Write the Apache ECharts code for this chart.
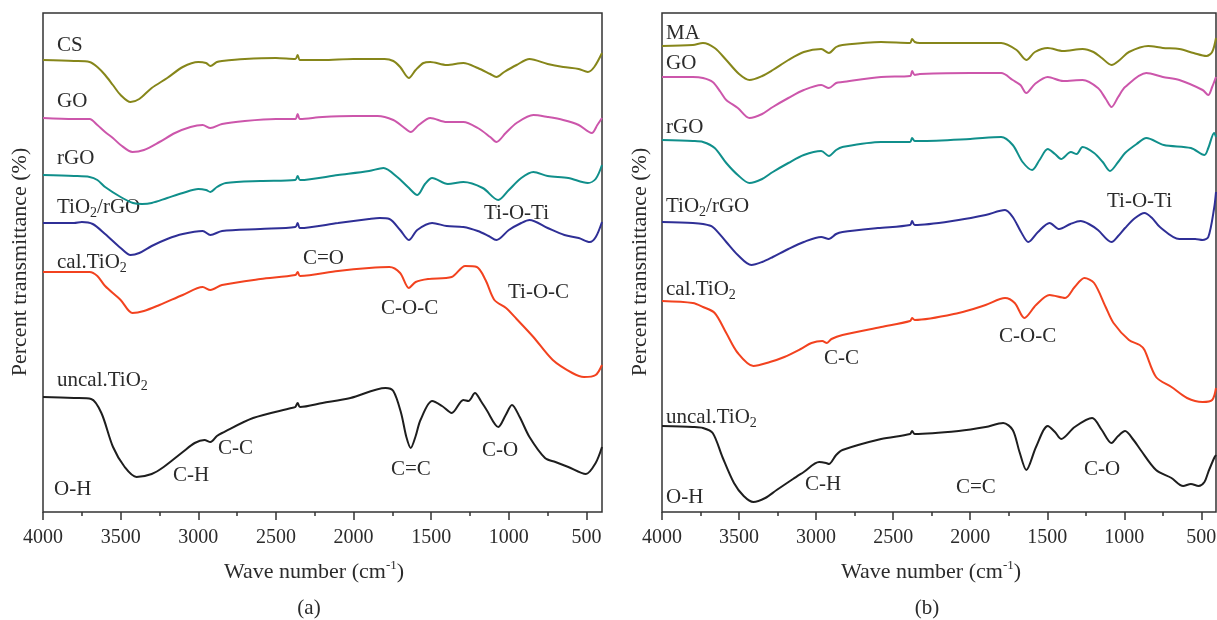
<!DOCTYPE html>
<html>
<head>
<meta charset="utf-8">
<script src="https://cdn.jsdelivr.net/npm/echarts@6/dist/echarts.min.js"></script>
<style>
  html, body { margin: 0; padding: 0; background: #fff; }
  #chart { width: 1217px; height: 620px; }
</style>
</head>
<body>
<div id="chart"></div>
<script>
// wave number (cm-1) / transmittance (arbitrary, offset spectra)
var majorTicks = [4000, 3500, 3000, 2500, 2000, 1500, 1000, 500];
var minorTicks = [3750, 3250, 2750, 2250, 1750, 1250, 750];

// ---- panel (a)
var csA = [[4000,452],[3800,451],[3700,450],[3650,445],[3600,437],[3550,427],[3500,417],[3436,410],[3380,413],[3300,424],[3200,434],[3100,445],[3000,450],[2950,449],[2922,446],[2880,450],[2847,451],[2700,453],[2500,454],[2375,453],[2360,457],[2345,452],[2200,452],[2000,453],[1800,453],[1744,451],[1700,445],[1644,434],[1600,442],[1550,449],[1506,450],[1400,447],[1293,449],[1200,444],[1120,438],[1080,435],[1030,440],[950,447],[867,453],[750,448],[650,445],[550,443],[491,440],[450,445],[400,459]];
var goA = [[4000,394],[3800,393],[3700,393],[3650,387],[3600,380],[3550,374],[3500,367],[3424,360],[3350,362],[3250,370],[3150,379],[3050,385],[2972,387],[2922,384],[2847,388],[2700,391],[2500,393],[2375,393],[2360,398],[2345,393],[2200,395],[2000,396],[1845,396],[1744,392],[1680,385],[1632,380],[1580,387],[1506,394],[1400,390],[1293,390],[1200,384],[1120,375],[1080,370],[1020,379],[950,389],[842,397],[750,395],[650,392],[550,387],[466,379],[430,387],[400,394]];
var rgoA = [[4000,337],[3800,336],[3700,335],[3650,332],[3600,325],[3500,315],[3420,309],[3361,308],[3300,309],[3200,314],[3100,319],[3000,323],[2950,322],[2922,320],[2880,325],[2822,329],[2600,331],[2375,332],[2360,336],[2345,332],[2100,337],[1900,341],[1807,344],[1719,335],[1650,325],[1589,317],[1540,328],[1494,334],[1393,328],[1293,330],[1168,324],[1068,312],[1000,322],[920,334],[842,340],[750,336],[617,334],[491,329],[441,333],[400,347]];
var tio2rgoA = [[4000,289],[3800,289],[3750,290],[3680,288],[3600,278],[3500,264],[3436,257],[3380,259],[3300,266],[3200,273],[3100,278],[2972,281],[2922,277],[2847,281],[2600,283],[2375,285],[2360,289],[2345,284],[2100,289],[1900,293],[1832,294],[1769,293],[1700,282],[1644,272],[1590,282],[1494,289],[1400,286],[1293,285],[1200,281],[1130,276],[1080,272],[1000,282],[920,289],[867,292],[750,284],[642,277],[550,274],[479,270],[440,275],[400,290]];
var calA = [[4000,240],[3800,240],[3700,240],[3650,236],[3600,226],[3500,212],[3424,199],[3350,201],[3250,207],[3100,217],[2972,225],[2922,222],[2847,227],[2600,233],[2375,237],[2360,240],[2345,236],[2100,241],[1900,244],[1769,245],[1700,239],[1644,224],[1600,230],[1520,233],[1368,235],[1281,246],[1206,245],[1150,232],[1093,212],[1018,204],[950,193],[842,175],[717,152],[591,139],[516,135],[441,137],[400,147]];
var uncalA = [[4000,115],[3800,114],[3690,113],[3624,99],[3549,65],[3474,45],[3398,35],[3300,38],[3223,45],[3100,60],[3023,69],[2960,72],[2922,70],[2880,76],[2847,79],[2647,94],[2400,104],[2375,105],[2360,109],[2345,105],[2200,109],[2020,114],[1794,124],[1744,121],[1694,99],[1660,75],[1632,64],[1600,76],[1569,92],[1494,111],[1430,106],[1368,99],[1293,112],[1260,111],[1218,119],[1180,111],[1143,102],[1068,85],[1020,97],[980,107],[930,95],[867,75],[767,54],[700,50],[617,45],[504,38],[441,49],[400,65]];

// ---- panel (b)
var maB = [[4000,466],[3800,467],[3734,469],[3658,464],[3583,452],[3500,438],[3432,432],[3350,436],[3281,442],[3180,452],[3080,460],[2967,463],[2917,459],[2870,465],[2829,467],[2578,470],[2390,469],[2377,473],[2360,470],[2327,469],[2000,469],[1799,469],[1699,462],[1636,452],[1580,460],[1497,464],[1397,461],[1271,463],[1200,460],[1146,454],[1083,447],[1030,452],[970,460],[845,466],[750,464],[643,463],[550,459],[467,456],[430,460],[405,474]];
var goB = [[4000,435],[3800,435],[3734,434],[3671,430],[3620,420],[3583,412],[3508,404],[3432,394],[3350,398],[3281,405],[3180,414],[3080,422],[2967,427],[2917,424],[2870,429],[2829,430],[2578,435],[2390,436],[2377,441],[2360,437],[2327,438],[2000,439],[1799,439],[1724,432],[1674,427],[1636,419],[1580,428],[1497,435],[1397,431],[1271,432],[1171,424],[1120,413],[1083,405],[1040,415],[995,425],[857,439],[750,435],[643,432],[492,422],[455,417],[430,425],[405,435]];
var rgoB = [[4000,372],[3800,371],[3734,370],[3658,364],[3583,349],[3508,337],[3432,329],[3350,333],[3281,340],[3180,349],[3080,357],[2967,361],[2917,356],[2870,362],[2829,365],[2578,370],[2390,370],[2377,374],[2360,371],[2327,371],[2000,373],[1799,375],[1724,367],[1660,350],[1598,342],[1550,352],[1497,363],[1450,358],[1410,353],[1347,360],[1309,358],[1271,365],[1196,359],[1140,350],[1093,341],[1040,350],[995,359],[920,368],[857,374],[744,367],[568,364],[480,357],[455,364],[417,379],[405,375]];
var tio2rgoB = [[4000,290],[3800,289],[3734,288],[3671,285],[3583,270],[3508,257],[3420,247],[3350,250],[3281,255],[3180,263],[3080,270],[2967,275],[2917,273],[2870,278],[2829,280],[2600,284],[2390,287],[2377,291],[2360,287],[2075,292],[1900,297],[1774,302],[1724,295],[1670,280],[1623,270],[1560,280],[1485,289],[1422,283],[1350,288],[1284,291],[1230,288],[1171,282],[1083,270],[1040,276],[995,284],[930,294],[869,299],[820,294],[769,285],[643,273],[540,273],[492,272],[455,275],[417,304],[405,320]];
var calB = [[4000,211],[3800,209],[3734,205],[3658,199],[3583,179],[3508,159],[3407,146],[3300,150],[3206,155],[3100,163],[3030,169],[2960,171],[2930,169],[2900,173],[2829,177],[2578,185],[2390,191],[2377,194],[2360,192],[2075,199],[1900,207],[1774,214],[1711,209],[1648,194],[1573,207],[1485,217],[1384,214],[1322,225],[1259,234],[1196,229],[1121,205],[1070,189],[970,172],[900,167],[869,162],[794,135],[694,125],[593,114],[492,110],[430,112],[405,124]];
var uncalB = [[4000,86],[3800,85],[3734,84],[3671,79],[3608,55],[3533,29],[3470,16],[3407,10],[3330,14],[3256,22],[3150,33],[3080,40],[2980,50],[2935,49],[2917,48],[2870,57],[2829,62],[2578,73],[2390,78],[2377,81],[2360,78],[2075,81],[1900,85],[1786,89],[1724,82],[1680,60],[1636,42],[1573,65],[1497,86],[1450,80],[1410,73],[1322,85],[1209,94],[1146,82],[1083,69],[1040,76],[995,81],[940,72],[894,62],[794,42],[694,34],[618,26],[568,28],[518,26],[480,30],[455,40],[417,54],[405,57]];

var colOlive = '#86861a', colPink = '#cc56ab', colTeal = '#108f8b',
    colNavy = '#2f2f96', colRed = '#f2421f', colBlack = '#1e1e1e';
var txtCol = '#2b2b2b';
var serif = '"Liberation Serif", "DejaVu Serif", serif';

var chart = echarts.init(document.getElementById('chart'), null, { renderer: 'canvas' });

function xAxisMain(gi, minV) {
  return {
    type: 'value', gridIndex: gi, inverse: true, min: minV, max: 4000,
    axisLine: { show: false },
    splitLine: { show: false },
    axisTick: { show: true, inside: false, length: 8, customValues: majorTicks,
                lineStyle: { color: '#333', width: 1.5 } },
    axisLabel: { show: true, customValues: majorTicks, margin: 16, hideOverlap: false,
                 color: txtCol, fontFamily: serif, fontSize: 20,
                 formatter: function (v) { return String(v); } }
  };
}
function xAxisMinor(gi, minV) {
  return {
    type: 'value', gridIndex: gi, inverse: true, min: minV, max: 4000, position: 'bottom',
    axisLine: { show: false }, splitLine: { show: false },
    axisTick: { show: true, inside: false, length: 4, customValues: minorTicks,
                lineStyle: { color: '#333', width: 1.5 } },
    axisLabel: { show: false }
  };
}
function yAxisHidden(gi) {
  return { type: 'value', gridIndex: gi, min: 0, max: 499,
           axisLine: { show: false }, axisTick: { show: false },
           axisLabel: { show: false }, splitLine: { show: false } };
}
function line(name, data, color, xi, yi) {
  return { name: name, type: 'line', data: data, xAxisIndex: xi, yAxisIndex: yi,
           showSymbol: false, smooth: 0.3, silent: true,
           lineStyle: { color: color, width: 2 }, itemStyle: { color: color } };
}

var rich = {
  s: { fontSize: 14, fontFamily: serif, fill: txtCol, verticalAlign: 'bottom', lineHeight: 14 },
  u: { fontSize: 13, fontFamily: serif, fill: txtCol, verticalAlign: 'top', lineHeight: 13 }
};
function lbl(x, y, text, align, rot, size) {
  return {
    type: 'text', x: x, y: y, rotation: rot || 0, silent: true,
    style: { text: text, fill: txtCol, font: (size || 21) + 'px ' + serif, lineHeight: 26,
             textAlign: align || 'left', textVerticalAlign: 'middle', rich: rich }
  };
}

var texts = [
  // panel (a)
  lbl(57, 45, 'CS'), lbl(57, 101, 'GO'), lbl(57, 158, 'rGO'),
  lbl(57, 207, 'TiO{s|2}/rGO'), lbl(57, 262, 'cal.TiO{s|2}'), lbl(57, 380, 'uncal.TiO{s|2}'),
  lbl(484, 213, 'Ti-O-Ti'), lbl(303, 258, 'C=O'), lbl(381, 308, 'C-O-C'), lbl(508, 292, 'Ti-O-C'),
  lbl(218, 448, 'C-C'), lbl(173, 475, 'C-H'), lbl(54, 489, 'O-H'), lbl(391, 469, 'C=C'), lbl(482, 450, 'C-O'),
  lbl(314, 572, 'Wave number (cm{u|-1})', 'center', 0, 22), lbl(309, 608, '(a)', 'center'),
  lbl(20, 262, 'Percent transmittance (%)', 'center', Math.PI / 2, 22),
  // panel (b)
  lbl(666, 33, 'MA'), lbl(666, 63, 'GO'), lbl(666, 127, 'rGO'),
  lbl(666, 206, 'TiO{s|2}/rGO'), lbl(666, 289, 'cal.TiO{s|2}'), lbl(666, 417, 'uncal.TiO{s|2}'),
  lbl(1107, 201, 'Ti-O-Ti'), lbl(824, 358, 'C-C'), lbl(999, 336, 'C-O-C'),
  lbl(666, 497, 'O-H'), lbl(805, 484, 'C-H'), lbl(956, 487, 'C=C'), lbl(1084, 469, 'C-O'),
  lbl(931, 572, 'Wave number (cm{u|-1})', 'center', 0, 22), lbl(927, 608, '(b)', 'center'),
  lbl(640, 262, 'Percent transmittance (%)', 'center', Math.PI / 2, 22)
];

chart.setOption({
  animation: false,
  backgroundColor: '#fff',
  grid: [
    { left: 43, top: 13, width: 559, height: 499, show: true, borderColor: '#333', borderWidth: 1.5,
      backgroundColor: 'transparent', outerBoundsMode: 'none', containLabel: false },
    { left: 662, top: 13, width: 554, height: 499, show: true, borderColor: '#333', borderWidth: 1.5,
      backgroundColor: 'transparent', outerBoundsMode: 'none', containLabel: false }
  ],
  xAxis: [xAxisMain(0, 400), xAxisMinor(0, 400), xAxisMain(1, 405), xAxisMinor(1, 405)],
  yAxis: [yAxisHidden(0), yAxisHidden(1)],
  series: [
    line('CS', csA, colOlive, 0, 0),
    line('GO', goA, colPink, 0, 0),
    line('rGO', rgoA, colTeal, 0, 0),
    line('TiO2/rGO', tio2rgoA, colNavy, 0, 0),
    line('cal.TiO2', calA, colRed, 0, 0),
    line('uncal.TiO2', uncalA, colBlack, 0, 0),
    line('MA', maB, colOlive, 2, 1),
    line('GO', goB, colPink, 2, 1),
    line('rGO', rgoB, colTeal, 2, 1),
    line('TiO2/rGO', tio2rgoB, colNavy, 2, 1),
    line('cal.TiO2', calB, colRed, 2, 1),
    line('uncal.TiO2', uncalB, colBlack, 2, 1)
  ],
  graphic: texts
});
</script>
</body>
</html>
